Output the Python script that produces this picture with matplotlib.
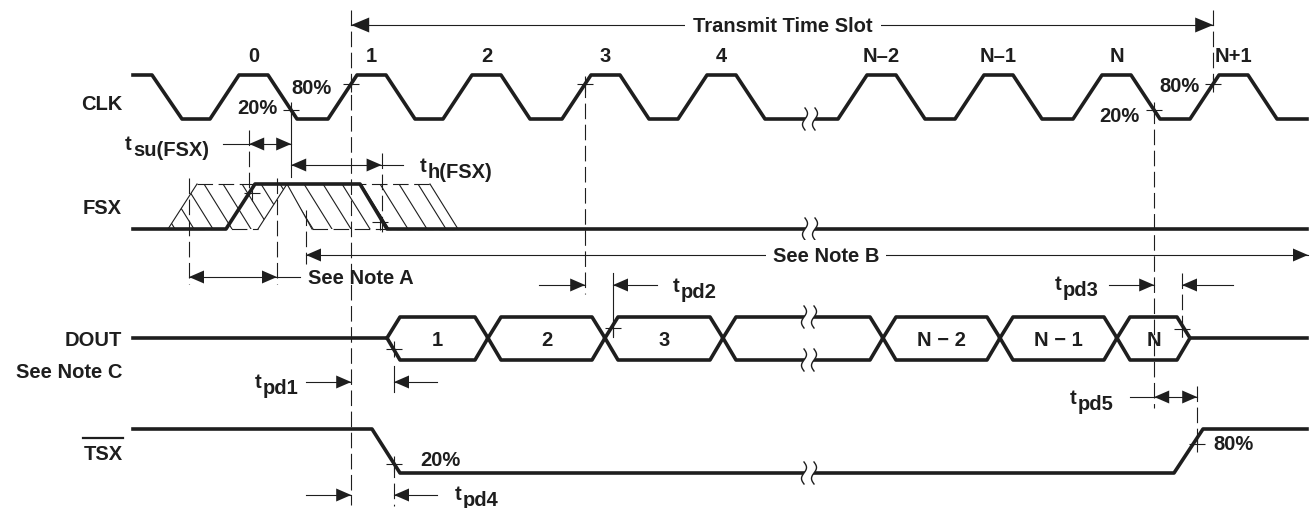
import numpy as np
import matplotlib.pyplot as plt
from matplotlib.patches import Polygon

plt.rcParams['font.family'] = ['Liberation Sans', 'DejaVu Sans']

# --- timing data (horizontal positions of the edges, drawing units) ---
clk_rise = [210, 328, 443, 562, 678, 838, 955, 1073, 1190]
clk_labels = ['0', '1', '2', '3', '4', 'N–2', 'N–1', 'N', 'N+1']
fsx_edges = [226, 360]            # rise start, fall start
dout_edges = [387, 488, 605, 723, 883, 1000, 1117, 1190]
dout_labels = ['1', '2', '3', '', 'N − 2', 'N − 1', 'N']
tsx_edges = [372, 1174]           # fall start, rise start
note_a = [189, 277]
note_b = [306, 1308]
fsx_window1 = [168, 258]          # rising-edge uncertainty (bottom corners)
fsx_window2 = [312, 458]          # falling-edge uncertainty (bottom corners)
break_x = 810

K = '#1e1e1e'
THICK = 2.6
THIN = 0.8
DASH = (0, (14, 5))
FS = 14.5

clk_hi, clk_lo = 75, 119
fsx_hi, fsx_lo = 184, 229
d_mid, d_top, d_bot = 338, 317, 360
tsx_hi, tsx_lo = 429, 473
x0, x1 = 133, 1307
tr = 29

fig = plt.figure(figsize=(13.12, 5.08), dpi=100)
ax = fig.add_axes([0, 0, 1, 1])
ax.set_xlim(0, 1312)
ax.set_ylim(508, 0)
ax.axis('off')


def txt(x, y, s, ha='center', **kw):
    # y is the visual centre of capital letters
    ax.text(x, y + 2, s, ha=ha, va='center', fontsize=FS, fontweight='bold',
            color=K, zorder=7, **kw)


def tlabel(x, y, sub):
    txt(x, y - 6, 't', ha='left')
    txt(x + 8, y, sub, ha='left')


def head(x, y, d, L=15, W=6.5):
    ax.add_patch(Polygon([(x, y), (x - d * L, y - W), (x - d * L, y + W)],
                         closed=True, color=K, lw=0, zorder=5))


def seg(xa, xb, ya, yb, dashed=False, lw=THIN):
    ax.plot([xa, xb], [ya, yb], color=K, lw=lw, ls=DASH if dashed else '-', zorder=4)


def brk(xb, y, h=11):
    t = np.linspace(-1, 1, 30)
    yy = y + h * t
    left = xb - 5 - 2.5 * np.sin(np.pi * t)
    right = xb + 5 - 2.5 * np.sin(np.pi * t)
    pts = list(zip(left, yy)) + list(zip(right[::-1], yy[::-1]))
    ax.add_patch(Polygon(pts, closed=True, color='white', lw=0, zorder=3))
    ax.plot(left, yy, color=K, lw=1.0, zorder=4)
    ax.plot(right, yy, color=K, lw=1.0, zorder=4)


def mark(x, y):
    ax.plot(x, y, marker='+', ms=12, mew=0.8, color=K, zorder=6)


# --- CLK ---
xs, ys = [x0, 152, 182], [clk_hi, clk_hi, clk_lo]
for r in clk_rise:
    xs += [r, r + tr, r + 2 * tr, r + 3 * tr]
    ys += [clk_lo, clk_hi, clk_hi, clk_lo]
xs.append(x1)
ys.append(clk_lo)
ax.plot(xs, ys, color=K, lw=THICK, zorder=2)
for r, lab in zip(clk_rise, clk_labels):
    txt(r + 1.5 * tr, 55, lab)
brk(break_x, clk_lo)

amp = clk_lo - clk_hi
x_c0_20 = clk_rise[0] + 2 * tr + 0.8 * tr
x_c1_80 = clk_rise[1] + 0.8 * tr
x_c3_80 = clk_rise[3] + 0.8 * tr
x_cN_20 = clk_rise[7] + 2 * tr + 0.8 * tr
x_cN1_80 = clk_rise[8] + 0.8 * tr
y80 = clk_lo - 0.8 * amp
y20 = clk_lo - 0.2 * amp
for xm, ym in [(x_c0_20, y20), (x_c1_80, y80), (x_c3_80, y80), (x_cN_20, y20), (x_cN1_80, y80)]:
    mark(xm, ym)
txt(312, 87, '80%')
txt(257, 107, '20%')
txt(1119, 114, '20%')
txt(1180, 85, '80%')
txt(122, 103, 'CLK', ha='right')

# --- FSX ---
fr, ff = fsx_edges
ax.plot([x0, fr, fr + tr, ff, ff + 27, x1],
        [fsx_lo, fsx_lo, fsx_hi, fsx_hi, fsx_lo, fsx_lo], color=K, lw=THICK, zorder=2)
brk(break_x, fsx_lo)
x_fr80 = fr + 0.8 * tr
x_ff20 = ff + 0.8 * 27
mark(x_fr80 + 3, fsx_lo - 0.8 * (fsx_lo - fsx_hi))
mark(x_ff20 - 2, fsx_lo - 0.15 * (fsx_lo - fsx_hi))
txt(122, 207, 'FSX', ha='right')

# hatched uncertainty windows
w1 = [(fsx_window1[0], fsx_lo), (fsx_window1[0] + tr, fsx_hi),
      (fsx_window1[1] + tr, fsx_hi), (fsx_window1[1], fsx_lo)]
w2 = [(fsx_window2[0] - 25, fsx_hi), (fsx_window2[1] - 28, fsx_hi),
      (fsx_window2[1], fsx_lo), (fsx_window2[0], fsx_lo)]
for poly_pts in (w1, w2):
    poly = Polygon(poly_pts, closed=True, fill=False, lw=0)
    ax.add_patch(poly)
    for xh in np.arange(poly_pts[0][0] - 40, poly_pts[2][0] + 10, 19):
        ln, = ax.plot([xh, xh + 28], [fsx_hi, fsx_lo], color=K, lw=THIN, zorder=1)
        ln.set_clip_path(poly)
seg(w1[0][0], w1[1][0], w1[0][1], w1[1][1])
seg(w1[3][0], w1[2][0], w1[3][1], w1[2][1])
seg(w1[1][0], w1[2][0], fsx_hi, fsx_hi, dashed=True)
seg(w1[0][0], w1[3][0], fsx_lo, fsx_lo, dashed=True)
seg(w2[0][0], w2[3][0], w2[0][1], w2[3][1])
seg(w2[1][0], w2[2][0], w2[1][1], w2[2][1])
seg(w2[0][0], w2[1][0], fsx_hi, fsx_hi, dashed=True)
seg(w2[3][0], w2[2][0], fsx_lo, fsx_lo, dashed=True)

# --- DOUT ---
dt = 13
ax.plot([x0, dout_edges[0]], [d_mid, d_mid], color=K, lw=THICK, zorder=2)
ax.plot([dout_edges[-1], x1], [d_mid, d_mid], color=K, lw=THICK, zorder=2)
for a, b, lab in zip(dout_edges[:-1], dout_edges[1:], dout_labels):
    ax.plot([a, a + dt, b - dt, b, b - dt, a + dt, a],
            [d_mid, d_top, d_top, d_mid, d_bot, d_bot, d_mid], color=K, lw=THICK, zorder=2)
    if lab:
        txt((a + b) / 2, d_mid, lab)
brk(break_x - 1, d_top)
brk(break_x - 1, d_bot)
x_d1 = dout_edges[0] + 7
x_d3 = dout_edges[2] + 8
x_dN = dout_edges[-1] - 8
mark(x_d1, d_mid + 11)
mark(x_d3, d_mid - 10)
mark(x_dN, d_mid - 9)
txt(122, 338, 'DOUT', ha='right')
txt(122, 370, 'See Note C', ha='right')

# --- TSX ---
tf, trs = tsx_edges
ax.plot([x0, tf, tf + 28, trs, trs + 29, x1],
        [tsx_hi, tsx_hi, tsx_lo, tsx_lo, tsx_hi, tsx_hi], color=K, lw=THICK, zorder=2)
brk(break_x - 1, tsx_lo)
x_tf20 = tf + 0.8 * 28
x_tr80 = trs + 0.8 * 29
mark(x_tf20, tsx_hi + 0.8 * (tsx_lo - tsx_hi))
mark(x_tr80, tsx_lo - 0.65 * (tsx_lo - tsx_hi))
txt(440, 458, '20%')
txt(1233, 443, '80%')
txt(123, 452, 'TSX', ha='right')
ax.plot([83, 123], [438, 438], color=K, lw=1.6)

# --- reference lines ---
seg(x_c1_80, x_c1_80, 10, 505, dashed=True)
seg(x_cN1_80, x_cN1_80, 10, 90, dashed=True)
seg(x_c0_20, x_c0_20, 108, 177)
seg(x_fr80, x_fr80, 130, 195, dashed=True)
seg(x_ff20, x_ff20, 153, 232, dashed=True)
seg(note_a[0], note_a[0], 178, 284, dashed=True)
seg(note_a[1], note_a[1], 178, 284, dashed=True)
seg(note_b[0], note_b[0], 210, 264, dashed=True)
seg(x_c3_80, x_c3_80, 82, 294, dashed=True)
seg(x_d3, x_d3, 273, 337)
seg(x_cN_20, x_cN_20, 108, 408, dashed=True)
seg(x_dN, x_dN, 273, 337, dashed=True)
seg(x_tr80, x_tr80, 386, 444, dashed=True)
seg(x_d1, x_d1, 366, 392)
seg(x_tf20, x_tf20, 462, 506, dashed=True)

# --- dimension arrows ---
# Transmit Time Slot
seg(x_c1_80, x_cN1_80, 25, 25)
head(x_c1_80, 25, -1, L=18, W=7.5)
head(x_cN1_80, 25, 1, L=18, W=7.5)
txt(783, 24, 'Transmit Time Slot', bbox=dict(fc='white', ec='none', pad=6))

# See Note B
seg(note_b[0], note_b[1], 255, 255)
head(note_b[0], 255, -1)
head(note_b[1], 255, 1)
txt(826, 254, 'See Note B', bbox=dict(fc='white', ec='none', pad=5))

# See Note A
seg(note_a[0], note_a[1] + 23, 277, 277)
head(note_a[0], 277, -1)
head(note_a[1], 277, 1)
txt(308, 276, 'See Note A', ha='left')

# tsu(FSX)
seg(223, x_c0_20, 144, 144)
head(x_fr80, 144, -1)
head(x_c0_20, 144, 1)
tlabel(125, 149, 'su(FSX)')

# th(FSX)
seg(x_c0_20, x_ff20 + 21, 165, 165)
head(x_c0_20, 165, -1)
head(x_ff20, 165, 1)
tlabel(420, 170, 'h(FSX)')

# tpd1 / tpd4
for yy in (382, 495):
    seg(306, x_c1_80, yy, yy)
    head(x_c1_80, yy, 1)
    seg(x_d1, 437, yy, yy)
    head(x_d1, yy, -1)
tlabel(255, 386, 'pd1')
tlabel(455, 499, 'pd4')

# tpd2
seg(539, x_c3_80, 285, 285)
head(x_c3_80, 285, 1)
seg(x_d3, 657, 285, 285)
head(x_d3, 285, -1)
tlabel(673, 290, 'pd2')

# tpd3
seg(1109, x_cN_20, 285, 285)
head(x_cN_20, 285, 1)
seg(x_dN, 1233, 285, 285)
head(x_dN, 285, -1)
tlabel(1055, 289, 'pd3')

# tpd5
seg(1130, x_tr80, 397, 397)
head(x_cN_20, 397, -1)
head(x_tr80, 397, 1)
tlabel(1070, 402, 'pd5')

fig.savefig('out.png', dpi=100)
